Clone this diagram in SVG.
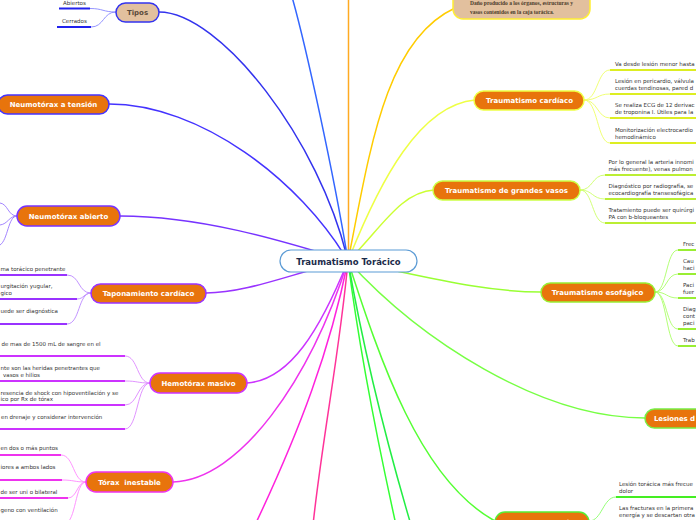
<svg xmlns="http://www.w3.org/2000/svg" width="696" height="520" viewBox="0 0 696 520">
<style>
.c{fill:none;stroke-width:1.5}
.s{fill:none;stroke-width:0.9}
.u{fill:none;stroke-width:2}
.nb{fill:#e8740c;stroke-width:1.5}
.lb{font-family:"DejaVu Sans",Verdana,sans-serif;font-size:7px;font-weight:bold;fill:#fff;text-anchor:middle}
.t{font-family:"DejaVu Sans",Verdana,sans-serif;font-size:5.5px;fill:#333}
.sf{font-family:"Liberation Serif","Times New Roman",serif;font-size:5.8px;font-weight:bold;fill:#4a3a2a}
</style>
<rect width="696" height="520" fill="#fff"/>
<g id="connectors">
<path class="c" stroke="#3366ff" d="M348,261 C335,180 305,40 290,-10"/>
<path class="c" stroke="#ffaa22" d="M348.5,261 L348.5,-5"/>
<path class="c" stroke="#ffcc00" d="M348,261 C370,150 385,40 455,8"/>
<path class="c" stroke="#eeff44" d="M348,261 C380,180 420,105 475,100"/>
<path class="c" stroke="#ccff33" d="M348,261 C380,230 400,192 434,190"/>
<path class="c" stroke="#99ff33" d="M348,261 C420,275 480,292 541,292"/>
<path class="c" stroke="#77ff44" d="M348,261 C420,340 540,418 645,418"/>
<path class="c" stroke="#55ff33" d="M348,261 C380,360 420,480 495,521"/>
<path class="c" stroke="#33ff33" d="M348,261 C358,340 375,430 396,525"/>
<path class="c" stroke="#22ee44" d="M348,261 C360,330 380,420 411,525"/>
<path class="c" stroke="#ff3399" d="M348,261 C340,350 322,440 313,525"/>
<path class="c" stroke="#ff22dd" d="M348,261 C330,350 300,430 255,525"/>
<path class="c" stroke="#ee33ee" d="M348,261 C310,380 240,480 173,482"/>
<path class="c" stroke="#cc33ff" d="M348,261 C320,330 290,380 247,383"/>
<path class="c" stroke="#9933ff" d="M348,261 C300,270 250,293 206,293"/>
<path class="c" stroke="#7733ff" d="M348,261 C280,240 200,216 120,216"/>
<path class="c" stroke="#4433ff" d="M348,261 C300,180 200,104 109,104"/>
<path class="c" stroke="#3333ee" d="M348,261 C320,140 220,12 159,12"/>
<path class="s" stroke="#8888ff" d="M116,12 C103,12 103,8.5 90,8.5 M116,12 C103,12 104,27 91,27"/>
<path class="u" stroke="#2222ee" d="M59,8.5 H90 M57,27 H91"/>
<path class="s" stroke="#9977ff" d="M17,216 C8,216 8,204 0,203 M17,216 C9,216 8,224 0,225 M17,216 C8,216 8,240 0,245"/>
<path class="s" stroke="#bb88ff" d="M91,293 C78,293 80,275 67,275 M91,293 C84,293 84,299 77,299 M91,293 C78,293 80,324 67,324"/>
<path class="u" stroke="#9933ff" d="M0,275 H67 M0,299 H77 M0,324 H67"/>
<path class="s" stroke="#dd88ff" d="M150,383 C137,383 138,356 125,356 M150,383 C137,383 138,381 125,381 M150,383 C137,383 138,405 125,405 M150,383 C137,383 138,429 125,429"/>
<path class="u" stroke="#cc33ff" d="M0,356 H125 M0,381 H125 M0,405 H125 M0,429 H125"/>
<path class="s" stroke="#ff88ff" d="M86,482 C73,482 74,455 61,455 M86,482 C74,482 74,480 62,480 M86,482 C77,482 77,498 68,498 M86,482 C75,482 76,523 65,523"/>
<path class="u" stroke="#ee33ee" d="M0,455 H61 M0,480 H62 M0,498 H68 M0,523 H65"/>
<path class="s" stroke="#eeff66" d="M584,100 C598,100 597,70 610,70 M584,100 C598,100 597,94 610,94 M584,100 C598,100 597,118 610,118 M584,100 C598,100 597,143 610,143"/>
<path class="u" stroke="#ddee22" d="M610,70 H696 M610,94 H696 M610,118 H696 M610,143 H696"/>
<path class="s" stroke="#ccff66" d="M580,190 C593,190 592,175 605,175 M580,190 C593,190 592,199 605,199 M580,190 C593,190 592,223 605,223"/>
<path class="u" stroke="#bbee33" d="M605,175 H696 M605,199 H696 M605,223 H696"/>
<path class="s" stroke="#aaff66" d="M655,292 C667,292 666,250 678,250 M655,292 C667,292 666,274 678,274 M655,292 C667,292 666,298 678,298 M655,292 C667,292 666,329 678,329 M655,292 C667,292 666,346 678,346"/>
<path class="u" stroke="#99ee33" d="M678,250 H696 M678,274 H696 M678,298 H696 M678,329 H696 M678,346 H696"/>
<path class="s" stroke="#88ff66" d="M589,521 C602,521 603,497 616,497"/>
<path class="u" stroke="#44ee22" d="M616,497 H696"/>
</g>
<g id="n-center">
<rect x="280" y="250" width="137" height="22" rx="11" fill="#fff" stroke="#5b9bd5" stroke-width="1.2"/>
<text x="348.5" y="264.5" font-family="DejaVu Sans,Verdana,sans-serif" font-size="8.5" font-weight="bold" fill="#1c2b4a" text-anchor="middle">Traumatismo Torácico</text>
</g>
<g id="n-tipos">
<rect x="116" y="3" width="43" height="19" rx="9.5" fill="#e2c09e" stroke="#3333ee" stroke-width="1.5"/>
<text class="lb" x="137.5" y="15" style="fill:#5a4a3a">Tipos</text>
<text class="t" x="63" y="5">Abiertos</text>
<text class="t" x="62" y="23">Cerrados</text>
</g>
<g id="n-tension">
<rect class="nb" x="-2" y="95" width="111" height="19" rx="9.5" stroke="#4433ff"/>
<text class="lb" x="53.5" y="107">Neumotórax a tensión</text>
</g>
<g id="n-abierto">
<rect class="nb" x="17" y="206" width="103" height="20" rx="10" stroke="#7733ff"/>
<text class="lb" x="68.5" y="218.5">Neumotórax abierto</text>
</g>
<g id="n-taponamiento">
<rect class="nb" x="91" y="284" width="115" height="19" rx="9.5" stroke="#9933ff"/>
<text class="lb" x="148.5" y="296">Taponamiento cardíaco</text>
<text class="t" x="0.5" y="271">ma torácico penetrante</text>
<text class="t" x="0.5" y="288">urgitación yugular,</text>
<text class="t" x="0.5" y="295">gico</text>
<text class="t" x="0.5" y="313">uede ser diagnóstica</text>
</g>
<g id="n-hemotorax">
<rect class="nb" x="150" y="373" width="97" height="20" rx="10" stroke="#cc33ff"/>
<text class="lb" x="198.5" y="385.5">Hemotórax masivo</text>
<text class="t" x="1.5" y="346">de mas de 1500 mL de sangre en el</text>
<text class="t" x="0.5" y="370">nte son las heridas penetrantes que</text>
<text class="t" x="3" y="377">vasos e hilios</text>
<text class="t" x="0.5" y="395">resencia de shock con hipoventilación y se</text>
<text class="t" x="0.5" y="401">ico por Rx de tórax</text>
<text class="t" x="1" y="419">en drenaje y considerar intervención</text>
</g>
<g id="n-torax">
<rect class="nb" x="86" y="472" width="87" height="20" rx="10" stroke="#ee33ee"/>
<text class="lb" x="129.5" y="484.5" xml:space="preserve" style="white-space:pre">Tórax  inestable</text>
<text class="t" x="0.5" y="450">en dos o más puntos</text>
<text class="t" x="0.5" y="469">iores a ambos lados</text>
<text class="t" x="0.5" y="494">de ser uni o bilateral</text>
<text class="t" x="0.5" y="512">geno con ventilación</text>
</g>
<g id="n-definicion">
<rect x="453" y="-12" width="137" height="31" rx="10" fill="#e2c09e" stroke="#ffee33" stroke-width="1.5"/>
<text class="sf" x="470" y="4.5" textLength="103" lengthAdjust="spacingAndGlyphs">Daño producido a los órganos, estructuras y</text>
<text class="sf" x="470" y="13.5" textLength="84" lengthAdjust="spacingAndGlyphs">vasos contenidos en la caja torácica.</text>
</g>
<g id="n-cardiaco">
<rect class="nb" x="474" y="91" width="110" height="19" rx="9.5" stroke="#eeff44"/>
<text class="lb" x="529.5" y="103">Traumatismo cardíaco</text>
<text class="t" x="615" y="66">Va desde lesión menor hasta</text>
<text class="t" x="615" y="83">Lesión en pericardio, válvula</text>
<text class="t" x="615" y="90">cuerdas tendinosas, pared d</text>
<text class="t" x="615" y="107">Se realiza ECG de 12 derivac</text>
<text class="t" x="615" y="114">de troponina I. Útiles para la</text>
<text class="t" x="615" y="132">Monitorización electrocardio</text>
<text class="t" x="615" y="139">hemodinámico</text>
</g>
<g id="n-vasos">
<rect class="nb" x="433" y="181" width="147" height="19" rx="9.5" stroke="#ccff44"/>
<text class="lb" x="506.5" y="193">Traumatismo de grandes vasos</text>
<text class="t" x="608.5" y="164">Por lo general la arteria innomi</text>
<text class="t" x="608.5" y="171">más frecuente), venas pulmon</text>
<text class="t" x="608.5" y="188">Diagnóstico por radiografía, se</text>
<text class="t" x="608.5" y="195">ecocardiografía transesofágica</text>
<text class="t" x="608.5" y="212">Tratamiento puede ser quirúrgi</text>
<text class="t" x="608.5" y="219">PA con b-bloqueantes</text>
</g>
<g id="n-esofagico">
<rect class="nb" x="541" y="283" width="114" height="19" rx="9.5" stroke="#99ee33"/>
<text class="lb" x="597.5" y="295">Traumatismo esofágico</text>
<text class="t" x="683" y="246">Frec</text>
<text class="t" x="683" y="263">Cau</text>
<text class="t" x="683" y="270">haci</text>
<text class="t" x="683" y="287">Paci</text>
<text class="t" x="683" y="294">fuer</text>
<text class="t" x="683" y="311">Diag</text>
<text class="t" x="683" y="318">cont</text>
<text class="t" x="683" y="325">paci</text>
<text class="t" x="683" y="342">Trab</text>
</g>
<g id="n-lesiones">
<rect class="nb" x="645" y="409" width="62" height="19" rx="9.5" stroke="#77ee44"/>
<text class="lb" x="654" y="421" style="text-anchor:start;letter-spacing:-0.1px">Lesiones d</text>
</g>
<g id="n-fracturas">
<rect class="nb" x="495" y="512" width="94" height="20" rx="10" stroke="#55ee33"/>
<text class="lb" x="542" y="525">Fracturas costales</text>
<text class="t" x="619" y="486">Lesión torácica más frecue</text>
<text class="t" x="619" y="493">dolor</text>
<text class="t" x="619" y="510">Las fracturas en la primera</text>
<text class="t" x="619" y="517">energía y se descartan otra</text>
</g>
</svg>
